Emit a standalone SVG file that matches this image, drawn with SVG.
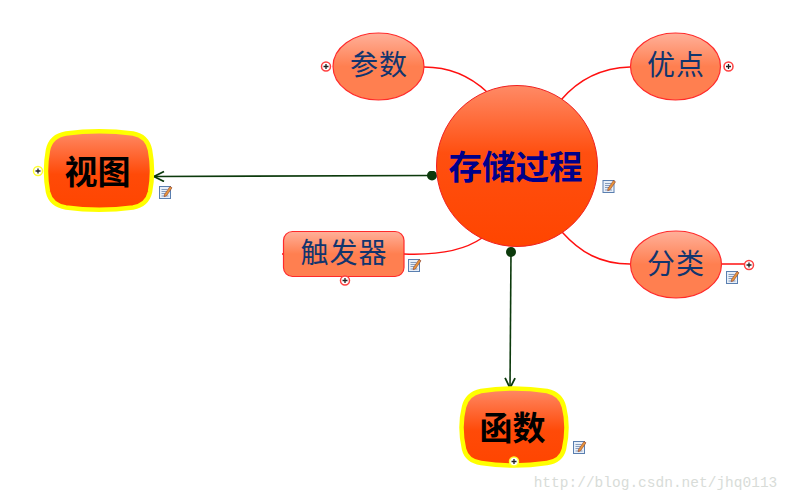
<svg xmlns="http://www.w3.org/2000/svg" xmlns:xlink="http://www.w3.org/1999/xlink" width="787" height="500" viewBox="0 0 787 500">
<style>
.cjk{font-family:"Noto Sans CJK SC","Liberation Sans",sans-serif;text-anchor:middle}
.sub{font-size:28px;fill:#12356e;letter-spacing:1px}
.sub2{fill:url(#gs);stroke:#ff2a2a;stroke-width:1.2}
.big{font-size:33px;font-weight:700;fill:#000}
.main{fill:url(#gm);stroke:#ffff00;stroke-width:4.5}
.edge{fill:none;stroke:#ff1010;stroke-width:1.5}
.link{fill:none;stroke:#0c3a0c;stroke-width:1.6}
.pr{fill:#fff;stroke:#ff4040;stroke-width:1.5}
.py{fill:#fff;stroke:#ffff30;stroke-width:1.5}
.pl{fill:none;stroke:#222;stroke-width:1.3}
</style>
<defs>
<linearGradient id="gs" x1="0" y1="0" x2="0" y2="1"><stop offset="0" stop-color="#ffb09a"/><stop offset=".5" stop-color="#ff7f50"/><stop offset="1" stop-color="#ff7f50"/></linearGradient>
<linearGradient id="gm" x1="0" y1="0" x2="0" y2="1"><stop offset="0" stop-color="#ff8a66"/><stop offset=".55" stop-color="#ff4a08"/><stop offset="1" stop-color="#ff4500"/></linearGradient>
<linearGradient id="gc2" x1="0" y1="0" x2="0" y2="1"><stop offset="0" stop-color="#ff8a66"/><stop offset=".42" stop-color="#ff4f10"/><stop offset="1" stop-color="#ff4500"/></linearGradient>
<g id="note">
<rect x="0.500" y="1.500" width="11" height="12" fill="#e8eff8" stroke="#5a7fb0"/>
<path d="M2.500 4.500h6M2.500 6.500h5M2.500 8.500h4M2.500 11h7" stroke="#6d88ad" stroke-width=".8" fill="none"/>
<path d="M5.500 9.500L11 1.500l2 1.300-5.500 8-2.300 .9z" fill="#e8963a" stroke="#8a3b2a" stroke-width=".6"/>
</g>
<g id="plusr"><circle r="4.500" class="pr"/><path class="pl" d="M-2.500 0h5M0-2.500v5"/></g>
<g id="plusy"><circle r="4.500" class="py"/><path class="pl" d="M-2.500 0h5M0-2.500v5"/></g>
<marker id="arrow" viewBox="0 0 12 12" refX="11" refY="6" markerWidth="12" markerHeight="12" markerUnits="userSpaceOnUse" orient="auto"><path d="M1 1L11 6L1 11" fill="none" stroke="#0c3a0c" stroke-width="1.800"/></marker>
<marker id="dot" viewBox="0 0 10 10" refX="5" refY="5" markerWidth="10" markerHeight="10" markerUnits="userSpaceOnUse"><circle cx="5" cy="5" r="5" fill="#0c3a0c"/></marker>
</defs>
<rect width="787" height="500" fill="#fff"/>
<g id="connectors">
<path class="edge" d="M424 67C448 67 470 76 487 92"/>
<path class="edge" d="M630 67C600 68 578 80 561 100"/>
<path class="edge" d="M404 254C430 255 462 252 482 238"/>
<path class="edge" d="M630 264C600 264 580 252 562 232"/>
<path class="edge" d="M721 264H745"/>
<path class="edge" d="M282 254H284"/>
<path class="link" d="M432 175.500L154 176.500" marker-start="url(#dot)" marker-end="url(#arrow)"/>
<path class="link" d="M511 252L510 388" marker-start="url(#dot)" marker-end="url(#arrow)"/>
</g>
<g id="node-center">
<circle cx="517" cy="166" r="80.500" fill="url(#gc2)" stroke="#f02020" stroke-width="1"/>
<text class="cjk" x="515.500" y="179" font-size="33.500" font-weight="700" fill="#00008b">存储过程</text>
<use xlink:href="#note" href="#note" x="602.500" y="179"/>
</g>
<g id="node-params">
<ellipse cx="378.500" cy="66.500" rx="45.500" ry="33.500" class="sub2"/>
<text class="cjk sub" x="379" y="75">参数</text>
<use xlink:href="#plusr" href="#plusr" x="326" y="66.500"/>
</g>
<g id="node-youdian">
<ellipse cx="675.500" cy="66.500" rx="45" ry="33.500" class="sub2"/>
<text class="cjk sub" x="676" y="75">优点</text>
<use xlink:href="#plusr" href="#plusr" x="728.500" y="66.500"/>
</g>
<g id="node-trigger">
<rect x="283.500" y="231.500" width="120.500" height="45" rx="9" class="sub2"/>
<text class="cjk sub" x="344" y="263" letter-spacing="2">触发器</text>
<use xlink:href="#plusr" href="#plusr" x="345" y="280.500"/>
<use xlink:href="#note" href="#note" x="408" y="258"/>
</g>
<g id="node-fenlei">
<ellipse cx="676" cy="264.500" rx="45.500" ry="33.500" class="sub2"/>
<text class="cjk sub" x="676" y="274">分类</text>
<use xlink:href="#plusr" href="#plusr" x="749" y="265"/>
<use xlink:href="#note" href="#note" x="726" y="270"/>
</g>
<g id="node-view">
<path class="main" d="M66 133.500Q99 129 133 133.500Q147 136 150 150Q154 171 150 192Q147 205 133 207.500Q99 212 66 207.500Q51 205 48 192Q44 171 48 150Q51 136 66 133.500Z"/>
<text class="cjk big" x="97.500" y="184">视图</text>
<use xlink:href="#plusy" href="#plusy" x="38" y="171"/>
<use xlink:href="#note" href="#note" x="159" y="185"/>
</g>
<g id="node-func">
<path class="main" d="M481 391Q514 386 547 391Q561 394 564 407Q569 427 564 449Q561 461 547 463Q514 468 481 463Q467 461 464 449Q459 427 464 407Q467 394 481 391Z"/>
<text class="cjk big" x="512.500" y="440">函数</text>
<use xlink:href="#plusy" href="#plusy" x="514" y="461.500"/>
<use xlink:href="#note" href="#note" x="573" y="440"/>
</g>
<text id="watermark" x="655.500" y="487" font-family="Liberation Mono, monospace" font-size="14.500" fill="#d8dcd8" text-anchor="middle">http://blog.csdn.net/jhq0113</text>
</svg>
